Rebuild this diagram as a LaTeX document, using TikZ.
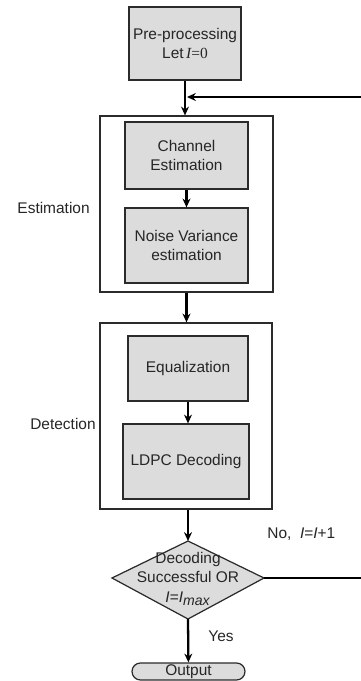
\documentclass[tikz,border=0pt]{standalone}
\usepackage{fontspec}
\setmainfont{Liberation Sans}
\newfontfamily\serifit{Liberation Serif}
\usetikzlibrary{arrows.meta}
\usetikzlibrary{positioning}

\definecolor{boxgray}{HTML}{DCDCDC}
\definecolor{linegray}{HTML}{2B2B2B}

\tikzset{
    procbox/.style={draw=linegray, line width=0.7pt, fill=boxgray, align=center, inner sep=0pt},
    groupbox/.style={draw=linegray, line width=0.7pt, fill=white, inner sep=0pt},
    flow/.style={draw=black, line width=1.3pt, -{Stealth[length=5pt,width=4.5pt]}},
    flowline/.style={draw=black, line width=1.3pt},
    grouplabel/.style={anchor=east, inner sep=0pt},
}

\begin{document}
\begin{tikzpicture}[x=0.02cm, y=-0.02cm, font=\fontsize{8.8}{10.6}\selectfont, text=black!85]
            \useasboundingbox (0,0) rectangle (360,681);

            \node[procbox, minimum width=112*0.02cm, minimum height=73*0.02cm] (pre) at (185,43.5)
                {Pre-processing\\Let\,{\serifit\itshape I}{\serifit=0}};

            \node[groupbox, minimum width=173*0.02cm, minimum height=176*0.02cm] (estbox) at (186.5,204) {};
            \node[procbox, minimum width=123*0.02cm, minimum height=67*0.02cm] (chan) at (186.5,155.5)
                {Channel\\Estimation};
            \node[procbox, minimum width=123*0.02cm, minimum height=75*0.02cm] (noise) at (186.5,245.5)
                {Noise Variance\\estimation};
            \node[grouplabel] (estlbl) at (90,208) {Estimation};

            \node[groupbox, minimum width=172*0.02cm, minimum height=186*0.02cm] (detbox) at (186,416) {};
            \node[procbox, minimum width=120*0.02cm, minimum height=65*0.02cm] (equal) at (188,368.5)
                {Equalization};
            \node[procbox, minimum width=126*0.02cm, minimum height=75*0.02cm] (ldpc) at (186,461.5)
                {LDPC Decoding};
            \node[grouplabel] (detlbl) at (96,424) {Detection};

            % decision diamond
            \coordinate (decT) at (188,541);
            \coordinate (decR) at (264,578);
            \coordinate (decB) at (188,619);
            \coordinate (decL) at (112,578);
            \filldraw[draw=linegray, line width=0.7pt, fill=boxgray] (decT) -- (decR) -- (decB) -- (decL) -- cycle;
            \node[align=center, inner sep=0pt] (dec) at (188,579)
                {Decoding\\Successful OR\\[1pt]\textit{I}=\textit{I}\textsubscript{\footnotesize\itshape max}};

            \node[procbox, rounded corners=0.17cm, minimum width=113*0.02cm, minimum height=17*0.02cm] (out) at (188.5,671.5)
                {Output};

            \node[anchor=west, inner sep=0pt] (nolbl) at (267,534) {No,\ \ \textit{I}=\textit{I}+1};
            \node[anchor=west, inner sep=0pt] (yeslbl) at (208,636) {Yes};

            \coordinate (loopR) at (362,578);
            \coordinate (loopIn) at (187,97);

            % connectors
            \draw[flow] (pre.south) -- (pre.south |- estbox.north);
            \draw[flow] (chan) -- (noise);
            \draw[flow] (estbox.south) -- (estbox.south |- detbox.north);
            \draw[flow] (equal) -- (equal |- ldpc.north);
            \draw[flow] (decT |- detbox.south) -- (decT);
            \draw[flow] (decB) -- (out);
            \draw[flowline] (decR) -- (loopR);
            \draw[flow] (loopR) |- (loopIn);
        \end{tikzpicture}
\end{document}
